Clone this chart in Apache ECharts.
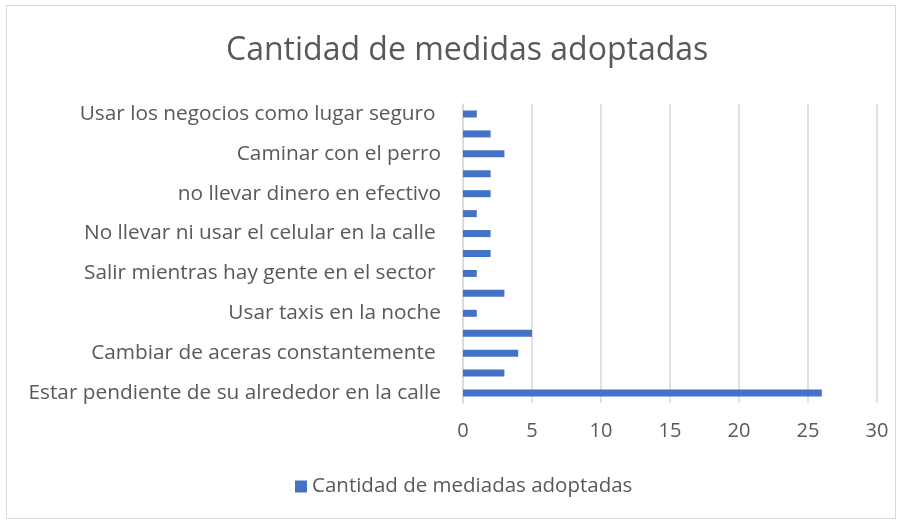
<!DOCTYPE html>
<html>
<head>
    <meta charset="UTF-8">
    <title>Cantidad de medidas adoptadas</title>
    <script src="https://cdn.jsdelivr.net/npm/echarts@6/dist/echarts.min.js"></script>
    <style>
        html, body { margin: 0; padding: 0; background: #fff; }
        #frame { position: absolute; left: 6px; top: 5px; width: 890px; height: 514px; border: 1px solid #d9d9d9; box-sizing: border-box; }
        #main { width: 906px; height: 523px; }
    </style>
</head>
<body>
    <div id="frame"></div>
    <div id="main"></div>
    <script type="text/javascript">
        // categorias (de abajo hacia arriba), solo se ven una si y una no
        var medidas = [
            'Estar pendiente de su alrededor en la calle',
            'Caminar acompañado',
            'Cambiar de aceras constantemente ',
            'No salir de noche',
            'Usar taxis en la noche',
            'Evitar lugares oscuros',
            'Salir mientras hay gente en el sector ',
            'No usar joyas',
            'No llevar ni usar el celular en la calle ',
            'Llevar silbato',
            'no llevar dinero en efectivo',
            'Avisar a la familia',
            'Caminar con el perro',
            'Cambiar de ruta',
            'Usar los negocios como lugar seguro '
        ];
        var cantidad = [26, 3, 4, 5, 1, 3, 1, 2, 2, 1, 2, 2, 3, 2, 1];
        var ticksX = [0, 5, 10, 15, 20, 25, 30];
        var serieNombre = 'Cantidad de mediadas adoptadas';
        var titulo = 'Cantidad de medidas adoptadas';

        var fuente = 'Open Sans';
        var myChart = echarts.init(document.getElementById('main'));

        var option = {
            animation: false,
            title: {
                text: titulo,
                left: 221,
                top: 30,
                textStyle: { fontFamily: fuente, fontSize: 32, fontWeight: 'normal', color: '#595959' }
            },
            legend: {
                bottom: 21,
                left: 290,
                itemWidth: 12,
                itemHeight: 12,
                itemGap: 6,
                icon: 'rect',
                data: [serieNombre],
                textStyle: { fontFamily: fuente, fontSize: 20.5, color: '#595959' }
            },
            grid: {
                left: 463,
                right: 29,
                top: 104,
                bottom: 120
            },
            xAxis: {
                type: 'value',
                min: ticksX[0],
                max: ticksX[ticksX.length - 1],
                interval: 5,
                axisLine: { show: false },
                axisTick: { show: false },
                axisLabel: { fontFamily: fuente, fontSize: 20, color: '#595959', margin: 18 },
                splitLine: { lineStyle: { color: '#d9d9d9', width: 1.5 } }
            },
            yAxis: {
                type: 'category',
                data: medidas,
                axisLine: { show: true, lineStyle: { color: '#d9d9d9', width: 1.5 } },
                axisTick: { show: false },
                axisLabel: { interval: 1, fontFamily: fuente, fontSize: 20.8, color: '#595959', margin: 22 }
            },
            series: [{
                name: serieNombre,
                type: 'bar',
                data: cantidad,
                barWidth: 7,
                itemStyle: { color: '#4472c4' }
            }]
        };

        myChart.setOption(option);
    </script>
</body>
</html>
